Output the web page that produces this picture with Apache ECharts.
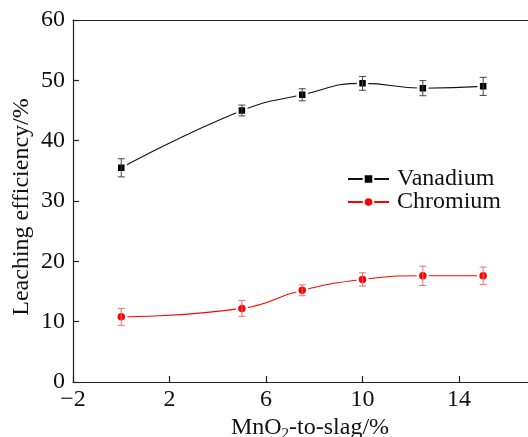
<!DOCTYPE html>
<html>
<head>
<meta charset="utf-8">
<script src="https://cdn.jsdelivr.net/npm/echarts@6/dist/echarts.min.js"></script>
<style>html,body{margin:0;padding:0;background:#fff}#c{width:528px;height:437px}</style>
</head>
<body>
<div id="c"></div>
<script>
const xValues = [0, 5, 7.5, 10, 12.5, 15];
const vanadium = [35.5, 45.0, 47.6, 49.5, 48.7, 49.0];
const vanadiumErr = [1.5, 0.9, 1.0, 1.15, 1.25, 1.5];
const chromium = [10.8, 12.2, 15.2, 17.0, 17.6, 17.6];
const chromiumErr = [1.4, 1.3, 0.9, 1.1, 1.6, 1.45];
const xTicks = [-2, 2, 6, 10, 14];
const yTicks = [0, 10, 20, 30, 40, 50, 60];

const FONT = 'Liberation Serif';
const FS = 24;
const chart = echarts.init(document.getElementById('c'), null, {renderer: 'canvas'});

function errData(vals, errs) {
  return xValues.map((x, i) => [x, vals[i] - errs[i], vals[i] + errs[i]]);
}
function errSeries(vals, errs, color) {
  return {
    type: 'custom',
    z: 5,
    silent: true,
    data: errData(vals, errs),
    encode: {x: 0, y: [1, 2]},
    renderItem: function (params, api) {
      const x = api.value(0);
      const lo = api.coord([x, api.value(1)]);
      const hi = api.coord([x, api.value(2)]);
      const w = 3.5;
      const st = {stroke: color, lineWidth: 1};
      return {
        type: 'group',
        children: [
          {type: 'line', shape: {x1: lo[0], y1: lo[1], x2: hi[0], y2: hi[1]}, style: st},
          {type: 'line', shape: {x1: lo[0] - w, y1: lo[1], x2: lo[0] + w, y2: lo[1]}, style: st},
          {type: 'line', shape: {x1: hi[0] - w, y1: hi[1], x2: hi[0] + w, y2: hi[1]}, style: st}
        ]
      };
    }
  };
}

const axisLabelStyle = {fontFamily: FONT, fontSize: FS, color: '#111'};

chart.setOption({
  animation: false,
  backgroundColor: '#fff',
  grid: {left: 73, top: 20, right: -1, bottom: 55, containLabel: false, outerBoundsMode: 'none'},
  legend: {
    left: 342, top: 162, orient: 'vertical',
    itemWidth: 41, itemHeight: 12, itemGap: -1,
    data: ['Vanadium', 'Chromium'],
    textStyle: {fontFamily: FONT, fontSize: FS, color: '#111', padding: [0, 0, 0, 3]}
  },
  xAxis: [{
    type: 'value', min: -2, max: 16.9, interval: 4,
    name: 'MnO{s|2}-to-slag/%', nameLocation: 'middle', nameGap: 31, nameMoveOverlap: false,
    nameTextStyle: {fontFamily: FONT, fontSize: FS, color: '#111', padding: [0, 0, 0, 18],
      rich: {s: {fontFamily: FONT, fontSize: 15, color: '#111', padding: [14, 0, 0, 0]}}},
    axisLine: {show: true, onZero: false, lineStyle: {color: '#222', width: 1.2}},
    axisTick: {show: true, inside: true, length: 6, lineStyle: {color: '#222', width: 1.2}},
    axisLabel: Object.assign({margin: 6, showMaxLabel: false,
      formatter: v => (v < 0 ? '\u2212' + Math.abs(v) : String(v))}, axisLabelStyle),
    splitLine: {show: false}
  }, {
    type: 'value', min: -2, max: 16.9, position: 'top',
    axisLine: {show: true, onZero: false, lineStyle: {color: '#222', width: 1.2}},
    axisTick: {show: false}, axisLabel: {show: false}, splitLine: {show: false}
  }],
  yAxis: {
    type: 'value', min: 0, max: 60, interval: 10,
    name: 'Leaching efficiency/%', nameLocation: 'middle', nameGap: 39, nameMoveOverlap: false,
    nameTextStyle: {fontFamily: FONT, fontSize: FS, color: '#111', padding: [0, 12, 0, 0]},
    axisLine: {show: true, onZero: false, lineStyle: {color: '#222', width: 1.2}},
    axisTick: {show: true, inside: true, length: 6, lineStyle: {color: '#222', width: 1.2}},
    axisLabel: Object.assign({margin: 8}, axisLabelStyle),
    splitLine: {show: false}
  },
  series: [
    {
      name: 'Vanadium', type: 'line', smooth: 0.5, z: 3,
      data: xValues.map((x, i) => [x, vanadium[i]]),
      symbol: 'rect', symbolSize: 9,
      lineStyle: {color: '#111', width: 1.1},
      itemStyle: {color: '#000', borderColor: '#fff', borderWidth: 2.5}
    },
    {
      name: 'Chromium', type: 'line', smooth: 0.5, z: 3,
      data: xValues.map((x, i) => [x, chromium[i]]),
      symbol: 'circle', symbolSize: 10,
      lineStyle: {color: '#ff0000', width: 1.1},
      itemStyle: {color: '#ff0000', borderColor: '#fff', borderWidth: 2.5}
    },
    errSeries(vanadium, vanadiumErr, '#444'),
    errSeries(chromium, chromiumErr, '#f07070')
  ]
});
</script>
</body>
</html>
